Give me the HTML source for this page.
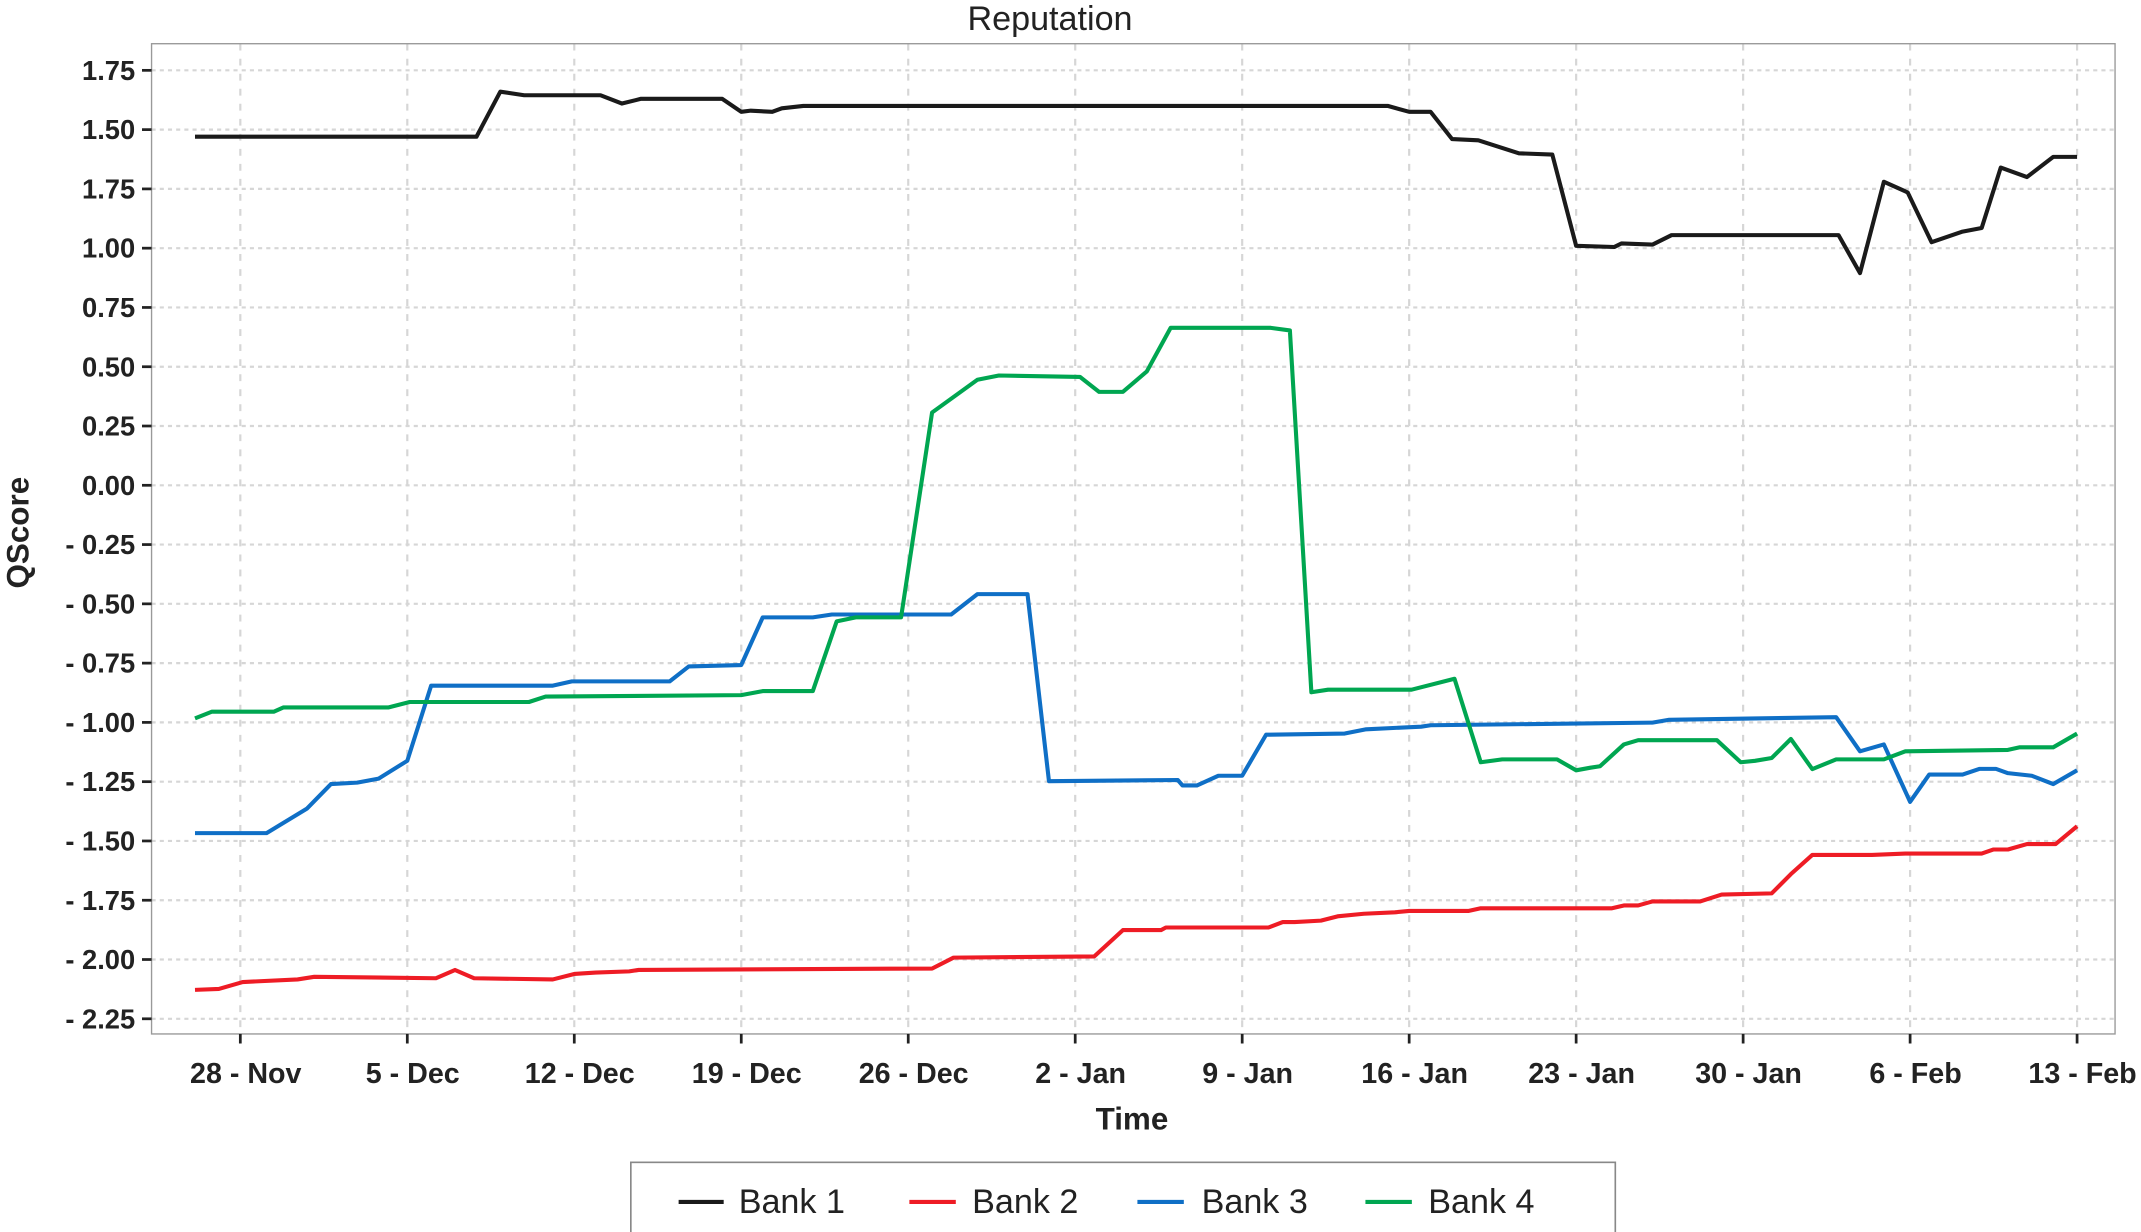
<!DOCTYPE html>
<html><head><meta charset="utf-8"><style>
html,body{margin:0;padding:0;background:#fff;}
svg{display:block;font-family:"Liberation Sans",sans-serif;}
</style></head><body>
<svg id="chart" width="2141" height="1232" viewBox="0 0 1568 902" preserveAspectRatio="none" xmlns="http://www.w3.org/2000/svg">
<rect x="0" y="0" width="1568" height="902" fill="#fff"/>
<text x="769" y="22" text-anchor="middle" font-size="25" fill="#222">Reputation</text>
<g id="grid"></g>
<rect x="111" y="32" width="1438" height="725" fill="none" stroke="#999" stroke-width="1"/>
<g id="axes"></g>
<g id="series"></g>
<text transform="translate(21,390) rotate(-90)" text-anchor="middle" font-size="23" font-weight="bold" fill="#222">QScore</text>
<text x="829" y="827" text-anchor="middle" font-size="23" font-weight="bold" fill="#222">Time</text>
<g>
<rect x="462" y="851" width="721" height="60" fill="#fff" stroke="#888" stroke-width="1.2"/>
<g><line x1="497" y1="880" x2="530" y2="880" stroke="#1a1a1a" stroke-width="3"/><text x="541" y="888" font-size="25" fill="#222">Bank 1</text></g>
<g><line x1="666" y1="880" x2="700" y2="880" stroke="#ee1c25" stroke-width="3"/><text x="712" y="888" font-size="25" fill="#222">Bank 2</text></g>
<g><line x1="833" y1="880" x2="867" y2="880" stroke="#0f6fc6" stroke-width="3"/><text x="880" y="888" font-size="25" fill="#222">Bank 3</text></g>
<g><line x1="1000" y1="880" x2="1034" y2="880" stroke="#00a651" stroke-width="3"/><text x="1046" y="888" font-size="25" fill="#222">Bank 4</text></g>
</g>
</svg>
<script>
const xTickDays = [0,7,14,21,28,35,42,49,56,63,70,77];
const xTickLabels = ["28 - Nov","5 - Dec","12 - Dec","19 - Dec","26 - Dec","2 - Jan","9 - Jan","16 - Jan","23 - Jan","30 - Jan","6 - Feb","13 - Feb"];
const yTickValues = [1.75,1.5,1.25,1.0,0.75,0.5,0.25,0,-0.25,-0.5,-0.75,-1.0,-1.25,-1.5,-1.75,-2.0,-2.25];
const yTickLabels = ["1.75","1.50","1.75","1.00","0.75","0.50","0.25","0.00","- 0.25","- 0.50","- 0.75","- 1.00","- 1.25","- 1.50","- 1.75","- 2.00","- 2.25"];

const bank1Days = [-1.9,9.9,10.9,11.9,15.1,16,16.8,20.2,21,21.4,22.3,22.7,23.6,48.1,49,49.9,50.8,51.9,53.6,55,56,57.6,57.9,59.2,60,67,67.9,68.9,69.9,70.9,72.2,73,73.8,74.9,76,77];
const bank1Values = [1.47,1.47,1.66,1.645,1.645,1.61,1.63,1.63,1.575,1.58,1.575,1.59,1.60,1.60,1.575,1.575,1.46,1.455,1.40,1.395,1.01,1.005,1.02,1.015,1.055,1.055,0.895,1.28,1.235,1.025,1.07,1.085,1.34,1.30,1.385,1.385];

const bank2Days = [-1.9,-0.9,0.1,2.4,3.1,8.2,9.0,9.8,13.1,14.0,14.9,16.3,16.7,29.0,29.9,35.8,37.0,38.6,38.8,43.1,43.7,44.2,45.3,46.0,47.1,48.4,49.0,51.5,52.0,57.5,58.0,58.6,59.2,61.2,62.1,64.2,65.0,65.9,68.4,69.8,73.0,73.5,74.1,74.9,76.1,77];
const bank2Values = [-2.128,-2.124,-2.095,-2.084,-2.073,-2.079,-2.044,-2.079,-2.084,-2.061,-2.055,-2.05,-2.044,-2.038,-1.992,-1.987,-1.876,-1.876,-1.865,-1.865,-1.842,-1.842,-1.836,-1.818,-1.807,-1.801,-1.795,-1.795,-1.784,-1.784,-1.772,-1.772,-1.755,-1.755,-1.726,-1.721,-1.640,-1.559,-1.559,-1.553,-1.553,-1.536,-1.536,-1.513,-1.513,-1.438];

const bank3Days = [-1.9,1.1,2.8,3.8,4.9,5.8,7.0,8.0,8.8,13.1,13.9,18.0,18.8,21.0,21.9,24.0,24.8,27.7,29.8,30.9,33.0,33.9,39.3,39.5,40.1,41.0,42.0,43.0,46.3,47.2,49.5,49.9,59.2,59.9,66.9,67.9,68.9,70.0,70.8,72.2,72.9,73.6,74.1,75.1,76.0,77];
const bank3Values = [-1.467,-1.467,-1.363,-1.260,-1.254,-1.237,-1.162,-0.845,-0.845,-0.845,-0.827,-0.827,-0.764,-0.758,-0.557,-0.557,-0.545,-0.545,-0.545,-0.459,-0.459,-1.248,-1.243,-1.266,-1.266,-1.225,-1.225,-1.052,-1.047,-1.029,-1.018,-1.012,-1.001,-0.989,-0.978,-1.122,-1.093,-1.335,-1.220,-1.220,-1.196,-1.196,-1.214,-1.225,-1.260,-1.202];

const bank4Days = [-1.9,-1.2,1.4,1.8,6.2,7.1,12.1,12.8,21.0,21.9,24.0,25.0,25.8,27.7,29.0,30.9,31.8,35.2,36.0,37.0,38.0,39.0,43.2,44.0,44.9,45.6,49.1,50.9,52.0,52.9,55.2,56.0,56.6,57.0,58.0,58.6,61.9,62.9,63.5,64.2,65.0,65.9,66.9,68.9,69.8,74.1,74.6,76.0,77];
const bank4Values = [-0.983,-0.955,-0.955,-0.937,-0.937,-0.914,-0.914,-0.891,-0.885,-0.868,-0.868,-0.574,-0.557,-0.557,0.307,0.445,0.463,0.457,0.394,0.394,0.480,0.664,0.664,0.653,-0.873,-0.862,-0.862,-0.816,-1.168,-1.156,-1.156,-1.202,-1.191,-1.185,-1.093,-1.075,-1.075,-1.168,-1.162,-1.150,-1.070,-1.197,-1.156,-1.156,-1.122,-1.116,-1.105,-1.105,-1.047];

const NS = "http://www.w3.org/2000/svg";
function xScale(d){ return 176 + d * 17.47; }
function yScale(v){ return 355.3 - v * 173.6; }

const grid = document.getElementById('grid');
const axes = document.getElementById('axes');
yTickValues.forEach((v,i)=>{
  const y = yScale(v);
  const gl = document.createElementNS(NS,'line');
  
  
  gl.setAttribute('x1',111); gl.setAttribute('x2',1549); gl.setAttribute('y1',y); gl.setAttribute('y2',y);
  gl.setAttribute('stroke','#d6d6d6'); gl.setAttribute('stroke-width','1.6'); gl.setAttribute('stroke-dasharray','3 3');
  grid.appendChild(gl);
  const tk = document.createElementNS(NS,'line');
  
  
  tk.setAttribute('x1',104); tk.setAttribute('x2',111); tk.setAttribute('y1',y); tk.setAttribute('y2',y);
  tk.setAttribute('stroke','#222'); tk.setAttribute('stroke-width','2');
  axes.appendChild(tk);
  const t = document.createElementNS(NS,'text');
  
  
  t.setAttribute('x',99); t.setAttribute('y',y+7);
  t.setAttribute('text-anchor','end'); t.setAttribute('font-size','20'); t.setAttribute('font-weight','bold'); t.setAttribute('fill','#222');
  t.textContent = yTickLabels[i];
  axes.appendChild(t);
});
xTickDays.forEach((d,i)=>{
  const x = xScale(d);
  const gl = document.createElementNS(NS,'line');
  
  
  gl.setAttribute('x1',x); gl.setAttribute('x2',x); gl.setAttribute('y1',32); gl.setAttribute('y2',757);
  gl.setAttribute('stroke','#d6d6d6'); gl.setAttribute('stroke-width','1.6'); gl.setAttribute('stroke-dasharray','5 6');
  grid.appendChild(gl);
  const tk = document.createElementNS(NS,'line');
  
  
  tk.setAttribute('x1',x); tk.setAttribute('x2',x); tk.setAttribute('y1',757); tk.setAttribute('y2',764);
  tk.setAttribute('stroke','#222'); tk.setAttribute('stroke-width','2');
  axes.appendChild(tk);
  const t = document.createElementNS(NS,'text');
  
  
  t.setAttribute('x',x+4); t.setAttribute('y',793);
  t.setAttribute('text-anchor','middle'); t.setAttribute('font-size','21'); t.setAttribute('font-weight','bold'); t.setAttribute('fill','#222');
  t.textContent = xTickLabels[i];
  axes.appendChild(t);
});

const seriesG = document.getElementById('series');
function drawSeries(days, values, color, name){
  const pts = days.map((d,i)=> xScale(d).toFixed(2)+','+yScale(values[i]).toFixed(2)).join(' ');
  const pl = document.createElementNS(NS,'polyline');
  
  
  pl.setAttribute('points', pts);
  pl.setAttribute('fill','none'); pl.setAttribute('stroke', color);
  pl.setAttribute('stroke-width','3'); pl.setAttribute('stroke-linejoin','round');
  seriesG.appendChild(pl);
}
drawSeries(bank1Days, bank1Values, '#1a1a1a', 'bank-1-line');
drawSeries(bank2Days, bank2Values, '#ee1c25', 'bank-2-line');
drawSeries(bank3Days, bank3Values, '#0f6fc6', 'bank-3-line');
drawSeries(bank4Days, bank4Values, '#00a651', 'bank-4-line');
</script>
</body></html>
